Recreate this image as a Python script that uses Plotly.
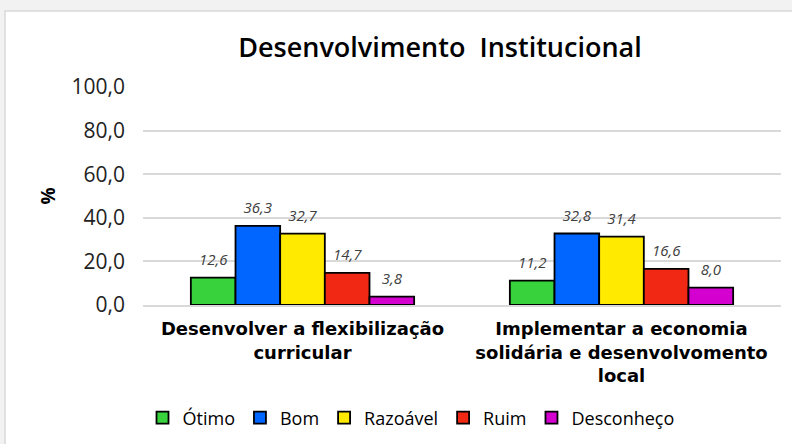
import plotly.graph_objects as go

categories = ["Desenvolver a flexibilização<br>curricular",
              "Implementar a economia<br>solidária e desenvolvomento<br>local"]
series_names = ["Ótimo", "Bom", "Razoável", "Ruim", "Desconheço"]
values = {
    "Ótimo": [12.6, 11.2],
    "Bom": [36.3, 32.8],
    "Razoável": [32.7, 31.4],
    "Ruim": [14.7, 16.6],
    "Desconheço": [3.8, 8.0],
}
colors = {
    "Ótimo": "#37d23c",
    "Bom": "#0066ff",
    "Razoável": "#ffea00",
    "Ruim": "#f02814",
    "Desconheço": "#d400d0",
}
y_ticks = [0, 20, 40, 60, 80, 100]
y_tick_labels = ["0,0", "20,0", "40,0", "60,0", "80,0", "100,0"]

FONT = "Open Sans"
W, H = 792, 444
L, R, T, B = 143, 11, 87, 139
PW, PH = W - L - R, H - T - B

fig = go.Figure()
for name in series_names:
    fig.add_trace(go.Bar(
        name=name, x=categories, y=values[name],
        marker=dict(color=colors[name], line=dict(color="black", width=1.8)),
    ))
# value labels, grouped like the bars, lifted above the bar tops
for name in series_names:
    fig.add_trace(go.Scatter(
        x=categories, y=values[name], mode="markers+text", showlegend=False,
        hoverinfo="skip",
        marker=dict(size=13, opacity=0),
        text=[f"{v:.1f}".replace(".", ",") for v in values[name]],
        textposition="top center", cliponaxis=False,
        textfont=dict(family=FONT, size=15, color="#404040", style="italic"),
    ))

fig.update_layout(
    barmode="group", bargap=0.30, bargroupgap=0,
    scattermode="group", scattergap=0.30,
    width=W, height=H,
    margin=dict(l=L, r=R, t=T, b=B),
    paper_bgcolor="#f2f2f2", plot_bgcolor="rgba(0,0,0,0)",
    title=dict(text="Desenvolvimento  Institucional", x=440 / W, xanchor="center",
               y=1 - 48 / H, yref="container", yanchor="middle",
               font=dict(family=FONT, size=27, color="black", weight=600)),
    font=dict(family=FONT, color="black"),
    legend=dict(orientation="h", x=411 / W, xref="container", xanchor="center",
                y=1 - 418 / H, yref="container", yanchor="middle",
                font=dict(family=FONT, size=18, color="black"),
                itemwidth=30, traceorder="normal", bgcolor="rgba(0,0,0,0)"),
    showlegend=True,
    shapes=[dict(type="rect", xref="paper", yref="paper",
                 x0=(5 - L) / PW, x1=1 + (R + 5) / PW,
                 y0=-(B + 5) / PH, y1=1 + (T - 11) / PH, fillcolor="white",
                 line=dict(color="#d9d9d9", width=1.5), layer="below")],
)
fig.update_yaxes(range=[0, 100], tickvals=y_ticks, ticktext=y_tick_labels,
                 automargin=False,
                 showgrid=True, gridcolor="#d9d9d9", gridwidth=1.5,
                 zeroline=False, showline=False, ticks="", ticklabelstandoff=17,
                 tickfont=dict(family=FONT, size=21, color="#222"),
                 title=dict(text="<b>%</b>", font=dict(family=FONT, size=19), standoff=10))
fig.update_xaxes(showline=True, linecolor="#d9d9d9", linewidth=1.5, ticks="",
                 automargin=False, ticklabelstandoff=7,
                 tickfont=dict(family="DejaVu Sans", size=18, color="black"),
                 tickprefix="<b>", ticksuffix="</b>")

fig.write_html("out.html", config={"displayModeBar": False},
               post_script="document.body.style.margin='0';")
